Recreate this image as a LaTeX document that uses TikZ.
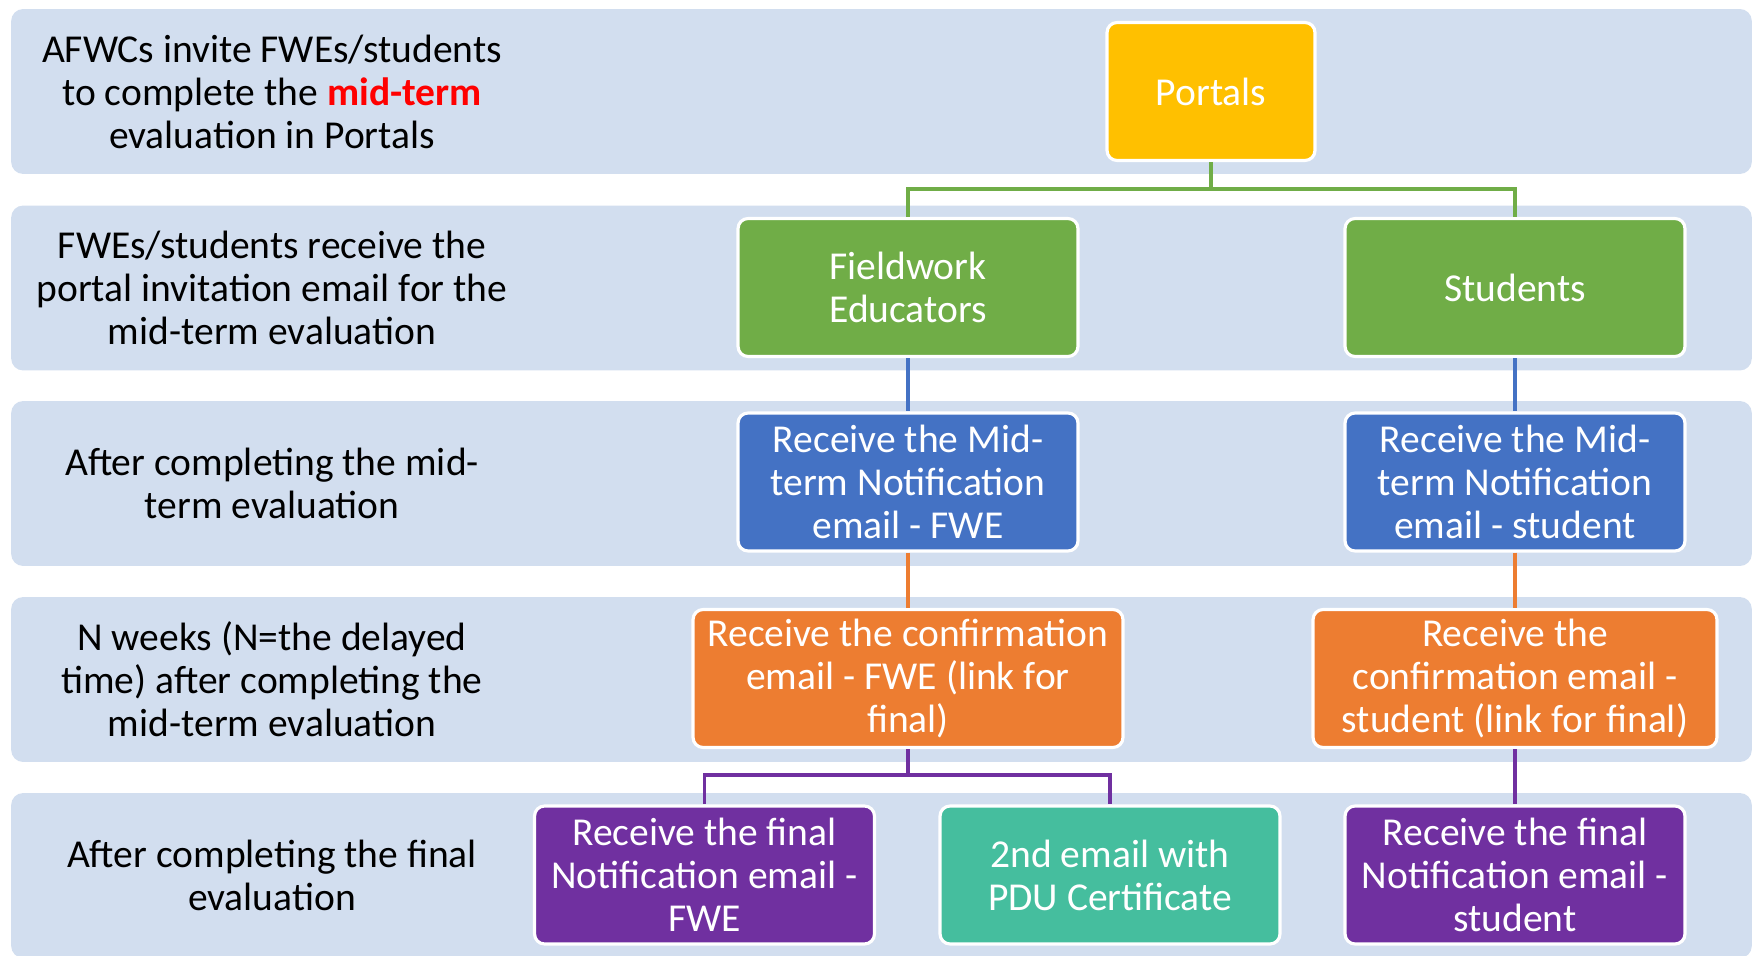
\documentclass[tikz,border=0pt]{standalone}
\usepackage{fontspec}
\setmainfont{Carlito}
\usepackage{xcolor}
\usepackage{tikz}
\definecolor{bandblue}{HTML}{D2DEEF}
\definecolor{portgold}{HTML}{FFC000}
\definecolor{fwgreen}{HTML}{70AD47}
\definecolor{notblue}{HTML}{4472C4}
\definecolor{confor}{HTML}{ED7D31}
\definecolor{finpurp}{HTML}{7030A0}
\definecolor{pduteal}{HTML}{45BE9E}
\tikzset{ band/.style = {rectangle, rounded corners=0.24cm, fill=bandblue, minimum width=34.82cm, minimum height=3.3cm, inner sep=0pt} }
\tikzset{ stage/.style = {align=center, font=\fontsize{22.5}{24.5}\selectfont} }
\tikzset{ box/.style = {rectangle, rounded corners=0.2cm, draw=white, line width=1.8pt, text=white, align=center, minimum width=6.8cm, minimum height=2.76cm, inner sep=0pt, font=\fontsize{22.5}{24.5}\selectfont} }
\tikzset{ link/.style = {line width=2pt} }

\begin{document}
\begin{tikzpicture}[x=0.02cm, y=-0.02cm]
    \useasboundingbox (0,0) rectangle (1761,956);
    \node[band] (row1) at (881.5, 91.5) {};
    \node[band] (row2) at (881.5, 288) {};
    \node[band] (row3) at (881.5, 483.5) {};
    \node[band] (row4) at (881.5, 679.5) {};
    \node[band] (row5) at (881.5, 875.5) {};
    \node[stage] (t1) at (272, 91.5) {AFWCs invite FWEs/students\\to complete the \textcolor{red}{\textbf{mid-term}}\\evaluation in Portals};
    \node[stage] (t2) at (272, 288) {FWEs/students receive the\\portal invitation email for the\\mid-term evaluation};
    \node[stage] (t3) at (272, 483.5) {After completing the mid-\\term evaluation};
    \node[stage] (t4) at (272, 679.5) {N weeks (N=the delayed\\time) after completing the\\mid-term evaluation};
    \node[stage] (t5) at (272, 875.5) {After completing the final\\evaluation};
    \node[box, fill=portgold, minimum width=4.16cm] (portals) at (1211, 91.5) {Portals};
    \node[box, fill=fwgreen] (fe) at (908, 287.5) {Fieldwork\\Educators};
    \node[box, fill=fwgreen] (st) at (1515, 287.5) {Students};
    \node[box, fill=notblue] (nfwe) at (908, 482) {Receive the Mid-\\term Notification\\email - FWE};
    \node[box, fill=notblue] (nst) at (1515, 482) {Receive the Mid-\\term Notification\\email - student};
    \node[box, fill=confor, minimum width=8.6cm] (cfwe) at (908, 678.5) {Receive the confirmation\\email - FWE (link for\\final)};
    \node[box, fill=confor, minimum width=8.08cm] (cst) at (1515, 678.5) {Receive the\\confirmation email -\\student (link for final)};
    \node[box, fill=finpurp] (ffwe) at (704.5, 875) {Receive the final\\Notification email -\\FWE};
    \node[box, fill=pduteal] (pdu) at (1110, 875) {2nd email with\\PDU Certificate};
    \node[box, fill=finpurp] (fst) at (1515, 875) {Receive the final\\Notification email -\\student};
    \coordinate (split1) at (1211, 189);
    \coordinate (split2) at (908, 775);
    \draw[link, fwgreen] (portals) -- (split1) -| (fe);
    \draw[link, fwgreen] (split1) -| (st);
    \draw[link, notblue] (fe) -- (nfwe);
    \draw[link, notblue] (st) -- (nst);
    \draw[link, confor] (nfwe) -- (cfwe);
    \draw[link, confor] (nst) -- (cst);
    \draw[link, finpurp] (cfwe) -- (split2) -| (ffwe);
    \draw[link, finpurp] (split2) -| (pdu);
    \draw[link, finpurp] (cst) -- (fst);
\end{tikzpicture}
\end{document}
